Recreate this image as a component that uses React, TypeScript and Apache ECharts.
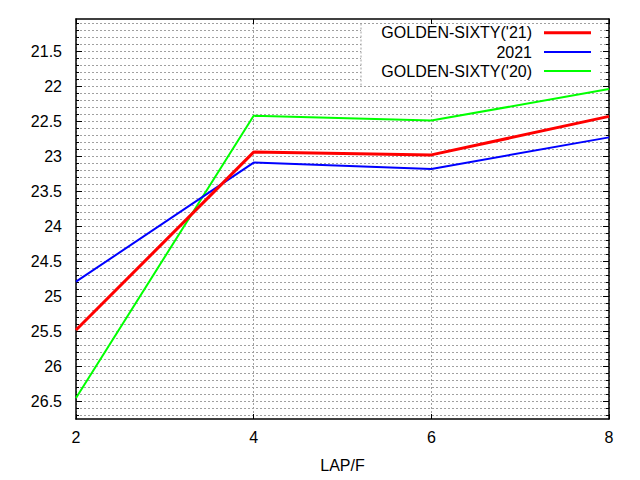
import React, { useEffect, useRef } from "react";
import * as echarts from "echarts";

const xValues = [2, 4, 6, 8];
const xTickLabels = [2, 4, 6, 8];
const goldenSixty21 = [25.48, 22.94, 22.98, 22.43];
const year2021 = [24.79, 23.09, 23.18, 22.73];
const goldenSixty20 = [26.45, 22.42, 22.49, 22.04];
const yTickLabels = [21.5, 22, 22.5, 23, 23.5, 24, 24.5, 25, 25.5, 26, 26.5];
const seriesNames = ["GOLDEN-SIXTY('21)", "2021", "GOLDEN-SIXTY('20)"];
const seriesColors = ["#ff0000", "#0000ff", "#00ff00"];
const seriesWidths = [3, 2, 2];

const Y_MIN = 21.04;
const Y_MAX = 26.75;

// minor grid positions every 0.1 within the axis range
const yMinorTicks: number[] = [];
for (let i = 211; i <= 267; i++) yMinorTicks.push(Math.round(i) / 10);

const FONT = "Liberation Sans, Arial, sans-serif";
const GRID_COLOR = "#a0a0a0";

export default function App() {
  const ref = useRef<HTMLDivElement>(null);
  useEffect(() => {
    if (!ref.current) return;
    const chart = echarts.init(ref.current, undefined, { renderer: "svg" });
    const allSeries = [goldenSixty21, year2021, goldenSixty20];
    const legendRows = [32.7, 52, 71];

    const yBase = {
      type: "value",
      min: Y_MIN,
      max: Y_MAX,
      inverse: true,
      scale: true,
    } as any;

    const option: any = {
      animation: false,
      backgroundColor: "#ffffff",
      textStyle: { fontFamily: FONT },
      grid: { left: 76, right: 31, top: 19, bottom: 61, containLabel: false, outerBoundsMode: "none" },
      xAxis: [
        {
          type: "value",
          min: 2,
          max: 8,
          interval: 2,
          position: "bottom",
          name: "LAP/F",
          nameLocation: "middle",
          nameGap: 38,
          nameTextStyle: { fontSize: 16, color: "#000", fontFamily: FONT },
          axisLine: { show: true, onZero: false, lineStyle: { color: "#000", width: 1.5 } },
          axisTick: { show: true, inside: true, length: 5, lineStyle: { color: "#000" }, customValues: xTickLabels },
          axisLabel: { show: true, fontSize: 16, color: "#000", margin: 10, fontFamily: FONT, customValues: xTickLabels },
          splitLine: { show: true, lineStyle: { color: GRID_COLOR, type: [2, 2], width: 1 } },
        },
        {
          type: "value",
          min: 2,
          max: 8,
          interval: 2,
          position: "top",
          axisLine: { show: true, onZero: false, lineStyle: { color: "#000", width: 1.5 } },
          axisTick: { show: true, inside: true, length: 5, lineStyle: { color: "#000" }, customValues: xTickLabels },
          axisLabel: { show: false },
          splitLine: { show: false },
        },
      ],
      yAxis: [
        {
          ...yBase,
          position: "left",
          axisLine: { show: true, onZero: false, lineStyle: { color: "#000", width: 1.5 } },
          axisTick: { show: true, inside: true, length: 6, lineStyle: { color: "#000" }, customValues: yTickLabels },
          axisLabel: { show: true, fontSize: 16, color: "#000", margin: 14, fontFamily: FONT, customValues: yTickLabels },
          splitLine: { show: false },
        },
        {
          ...yBase,
          position: "left",
          axisLine: { show: false },
          axisTick: { show: true, inside: true, length: 3, lineStyle: { color: "#000" }, customValues: yMinorTicks },
          axisLabel: { show: false },
          splitLine: { show: true, lineStyle: { color: GRID_COLOR, type: [2, 2], width: 1 } },
        },
        {
          ...yBase,
          position: "right",
          axisLine: { show: true, onZero: false, lineStyle: { color: "#000", width: 1.5 } },
          axisTick: { show: true, inside: true, length: 6, lineStyle: { color: "#000" }, customValues: yTickLabels },
          axisLabel: { show: false },
          splitLine: { show: false },
        },
        {
          ...yBase,
          position: "right",
          axisLine: { show: false },
          axisTick: { show: true, inside: true, length: 3, lineStyle: { color: "#000" }, customValues: yMinorTicks },
          axisLabel: { show: false },
          splitLine: { show: false },
        },
      ],
      series: allSeries.map((vals, i) => ({
        type: "line",
        name: seriesNames[i],
        xAxisIndex: 0,
        yAxisIndex: 0,
        data: xValues.map((x, j) => [x, vals[j]]),
        symbol: "none",
        lineStyle: { color: seriesColors[i], width: seriesWidths[i] },
        itemStyle: { color: seriesColors[i] },
        z: 3 - i + 2,
      })),
      graphic: [
        {
          type: "rect",
          z: 10,
          shape: { x: 361, y: 24, width: 239, height: 61.5 },
          style: { fill: "#ffffff" },
        },
        {
          type: "line",
          z: 11,
          shape: { x1: 361, y1: 23.5, x2: 361, y2: 86 },
          style: { stroke: GRID_COLOR, lineWidth: 1, lineDash: [2, 2] },
        },
        ...seriesNames.map((name, i) => ({
          type: "text",
          z: 12,
          x: 532,
          y: legendRows[i],
          style: {
            text: name,
            fontSize: 16,
            fontFamily: FONT,
            fill: "#000",
            textAlign: "right",
            textVerticalAlign: "middle",
            verticalAlign: "middle",
          },
        })),
        ...seriesNames.map((_, i) => ({
          type: "line",
          z: 12,
          shape: { x1: 544, y1: legendRows[i], x2: 591, y2: legendRows[i] },
          style: { stroke: seriesColors[i], lineWidth: seriesWidths[i] },
        })),
      ],
    };
    chart.setOption(option);
    return () => chart.dispose();
  }, []);
  return (
    <div
      ref={ref}
      style={{ position: "fixed", left: 0, top: 0, width: 640, height: 480, background: "#fff" }}
    />
  );
}
